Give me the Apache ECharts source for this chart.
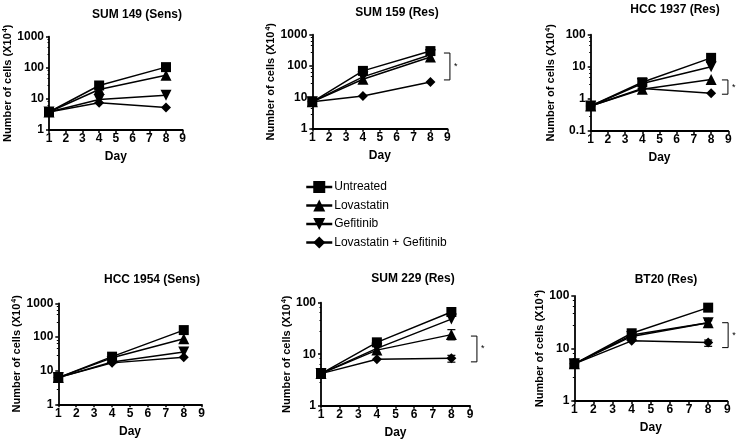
<!DOCTYPE html>
<html><head><meta charset="utf-8">
<script src="https://cdn.jsdelivr.net/npm/echarts@6/dist/echarts.min.js"></script>
<style>html,body{margin:0;padding:0;background:#fff}#c{width:739px;height:446px}</style>
</head><body><div id="c"></div>
<script>
const days = [1, 4, 8];
const seriesNames = ['Untreated', 'Lovastatin', 'Gefitinib', 'Lovastatin + Gefitinib'];
const panelTitles = ['SUM 149 (Sens)', 'SUM 159 (Res)', 'HCC 1937 (Res)', 'HCC 1954 (Sens)', 'SUM 229 (Res)', 'BT20 (Res)'];
const yMins = [1, 1, 0.1, 1, 1, 1];
const yMaxs = [1000, 1000, 100, 1000, 100, 100];

// values per panel, order: Untreated, Lovastatin, Gefitinib, Lovastatin + Gefitinib
const SUM149_untreated = [3.8, 27, 105];
const SUM149_lovastatin = [3.8, 20, 58];
const SUM149_gefitinib = [3.8, 9.5, 13];
const SUM149_combo = [3.8, 7.5, 5.3];

const SUM159_untreated = [7.2, 70, 300];
const SUM159_lovastatin = [7.2, 38, 195];
const SUM159_gefitinib = [7.2, 45, 230];
const SUM159_combo = [7.2, 11, 31];

const HCC1937_untreated = [0.6, 3.3, 19];
const HCC1937_lovastatin = [0.6, 2.0, 4.0];
const HCC1937_gefitinib = [0.6, 3.0, 10];
const HCC1937_combo = [0.6, 2.1, 1.5];

const HCC1954_untreated = [6.2, 26, 160];
const HCC1954_lovastatin = [6.2, 24, 88];
const HCC1954_gefitinib = [6.2, 18, 36];
const HCC1954_combo = [6.2, 17, 25];

const SUM229_untreated = [4.2, 17, 66];
const SUM229_lovastatin = [4.2, 12, 24];
const SUM229_gefitinib = [4.2, 13, 48];
const SUM229_combo = [4.2, 8, 8.3];

const BT20_untreated = [5.1, 19.5, 60];
const BT20_lovastatin = [5.1, 18, 31];
const BT20_gefitinib = [5.1, 17, 31];
const BT20_combo = [5.1, 14, 13];

// error bars: [panel, day, low, high]
const errorBars = [
  [4, 8, 19, 30],
  [4, 8, 7, 9.5],
  [5, 8, 11, 14.5],
  [5, 8, 28, 34]
];
// significance brackets: [panel, day, low, high]
const brackets = [
  [1, 8.8, 36, 260],
  [2, 8.63, 1.4, 3.9],
  [4, 9.05, 7.1, 22.5],
  [5, 8.73, 10.4, 31]
];

const panelData = [
  [SUM149_untreated, SUM149_lovastatin, SUM149_gefitinib, SUM149_combo],
  [SUM159_untreated, SUM159_lovastatin, SUM159_gefitinib, SUM159_combo],
  [HCC1937_untreated, HCC1937_lovastatin, HCC1937_gefitinib, HCC1937_combo],
  [HCC1954_untreated, HCC1954_lovastatin, HCC1954_gefitinib, HCC1954_combo],
  [SUM229_untreated, SUM229_lovastatin, SUM229_gefitinib, SUM229_combo],
  [BT20_untreated, BT20_lovastatin, BT20_gefitinib, BT20_combo]
];

// layout
const grids = [
  {left: 49, top: 36.7, width: 133.7, height: 93.3},
  {left: 312.3, top: 34.7, width: 135, height: 94},
  {left: 590.7, top: 34.7, width: 137.6, height: 96.3},
  {left: 58.3, top: 303.3, width: 143.4, height: 101},
  {left: 321, top: 302.7, width: 149, height: 103},
  {left: 574.3, top: 296, width: 153, height: 105}
];
const titlePos = [[137, 9], [397, 7], [675, 4], [152, 274], [413, 273], [666, 274]];
const yNameGaps = [28, 25, 33, 33, 26, 21];

const FONT = 'Liberation Sans, Arial, sans-serif';
const symbols = [
  {symbol: 'rect', size: 10, rotate: 0},
  {symbol: 'triangle', size: 11, rotate: 0},
  {symbol: 'triangle', size: 11, rotate: 180},
  {symbol: 'diamond', size: 10, rotate: 0}
];

const option = {
  animation: false,
  backgroundColor: '#fff',
  title: panelTitles.map((t, i) => ({
    text: t, left: titlePos[i][0], top: titlePos[i][1], textAlign: 'center', padding: 0,
    textStyle: {fontFamily: FONT, fontSize: 12, fontWeight: 'bold', color: '#000'}
  })),
  legend: {
    data: seriesNames, orient: 'vertical', left: 305, top: 181, itemWidth: 26, itemHeight: 15, itemGap: 6.5,
    padding: 0, itemStyle: {color: '#000'}, lineStyle: {width: 2.5, color: '#000'}, selectedMode: false,
    textStyle: {fontFamily: FONT, fontSize: 12, color: '#000', padding: [0, 0, 0, -3]}
  },
  grid: grids.map(g => Object.assign({containLabel: false}, g)),
  xAxis: grids.map((g, i) => ({
    type: 'value', gridIndex: i, min: 1, max: 9, interval: 1,
    name: 'Day', nameLocation: 'middle', nameGap: 21,
    nameTextStyle: {fontFamily: FONT, fontSize: 12, fontWeight: 'bold', color: '#000'},
    axisLine: {lineStyle: {color: '#000', width: 1.8}},
    axisTick: {show: true, length: 3, lineStyle: {color: '#000', width: 1.5}},
    axisLabel: {fontFamily: FONT, fontSize: 12, fontWeight: 'bold', color: '#000', margin: 3},
    splitLine: {show: false}
  })),
  yAxis: grids.map((g, i) => ({
    type: 'log', logBase: 10, gridIndex: i, min: yMins[i], max: yMaxs[i],
    name: '{a|Number of cells (X10}{s|4}{a|)}', nameLocation: 'middle', nameGap: yNameGaps[i],
    nameTextStyle: {rich: {
      a: {fontFamily: FONT, fontSize: 11, fontWeight: 'bold', color: '#000'},
      s: {fontFamily: FONT, fontSize: 7, fontWeight: 'bold', color: '#000', verticalAlign: 'top', padding: [0, 0, 6, 1]}
    }},
    axisLine: {show: true, lineStyle: {color: '#000', width: 1.8}},
    axisTick: {show: true, length: 3, lineStyle: {color: '#000', width: 1.5}},
    minorTick: {show: true, splitNumber: 5, length: 1.5, lineStyle: {color: '#000', width: 1}},
    axisLabel: {fontFamily: FONT, fontSize: 12, fontWeight: 'bold', color: '#000', margin: 5,
      formatter: v => String(+v.toPrecision(6))},
    splitLine: {show: false}
  })),
  series: []
};

// draw order: combo first, untreated last (on top)
for (let p = 0; p < 6; p++) {
  for (let k = 3; k >= 0; k--) {
    option.series.push({
      type: 'line', name: seriesNames[k], xAxisIndex: p, yAxisIndex: p,
      data: days.map((d, j) => [d, panelData[p][k][j]]),
      symbol: symbols[k].symbol, symbolSize: symbols[k].size, symbolRotate: symbols[k].rotate,
      showSymbol: true, lineStyle: {color: '#000', width: 1.5},
      itemStyle: {color: '#000', borderWidth: 0}, z: 3
    });
  }
  const eb = errorBars.filter(e => e[0] === p).map(e => [e[1], e[2], e[3]]);
  if (eb.length) option.series.push({
    type: 'custom', xAxisIndex: p, yAxisIndex: p, data: eb, encode: {x: 0, y: [1, 2]}, z: 2,
    renderItem: (params, api) => {
      const a = api.coord([api.value(0), api.value(1)]);
      const b = api.coord([api.value(0), api.value(2)]);
      const s = {stroke: '#000', lineWidth: 1.2};
      return {type: 'group', children: [
        {type: 'line', shape: {x1: a[0], y1: a[1], x2: b[0], y2: b[1]}, style: s},
        {type: 'line', shape: {x1: a[0] - 4, y1: a[1], x2: a[0] + 4, y2: a[1]}, style: s},
        {type: 'line', shape: {x1: b[0] - 4, y1: b[1], x2: b[0] + 4, y2: b[1]}, style: s}
      ]};
    }
  });
  const br = brackets.filter(e => e[0] === p).map(e => [e[1], e[2], e[3]]);
  if (br.length) option.series.push({
    type: 'custom', xAxisIndex: p, yAxisIndex: p, data: br, encode: {x: 0, y: [1, 2]}, clip: false, z: 2,
    renderItem: (params, api) => {
      const b = api.coord([api.value(0), api.value(1)]);
      const t = api.coord([api.value(0), api.value(2)]);
      const w = 6;
      return {type: 'group', children: [
        {type: 'polyline', shape: {points: [[t[0], t[1]], [t[0] + w, t[1]], [t[0] + w, b[1]], [t[0], b[1]]]},
         style: {stroke: '#000', lineWidth: 1, fill: null}},
        {type: 'text', style: {text: '*', x: t[0] + w + 4, y: (t[1] + b[1]) / 2, fontSize: 9, fontFamily: FONT,
         fill: '#000', align: 'left', verticalAlign: 'middle'}}
      ]};
    }
  });
}

const chart = echarts.init(document.getElementById('c'), null, {renderer: 'canvas'});
chart.setOption(option);
</script></body></html>
